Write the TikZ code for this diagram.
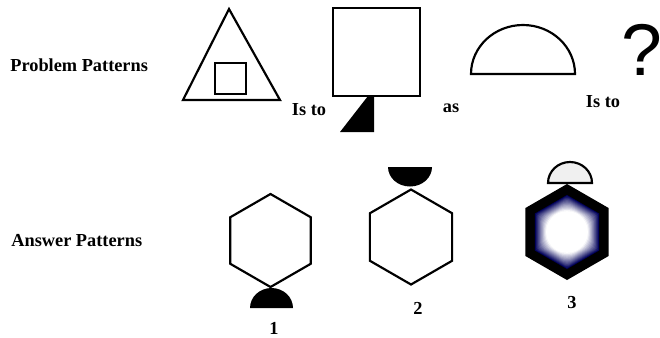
\documentclass[tikz,border=0pt]{standalone}
\usepackage{fontspec}
\setmainfont{Liberation Serif}
\newfontfamily\qfont{Liberation Sans}
\usepackage{tikz}
\usetikzlibrary{calc}
\colorlet{glowedge}{blue!35!black}
\tikzset{
  fig/.style={line width=1.3pt, line join=miter},
  lbl/.style={font=\fontsize{11}{13}\selectfont\bfseries, inner sep=0pt},
  num/.style={font=\fontsize{11}{13}\selectfont\bfseries, inner sep=0pt}
}

\begin{document}
\begin{tikzpicture}[x=0.6pt,y=-0.6pt]
        \useasboundingbox (0,0) rectangle (660,337);
        % row titles
        \node[lbl,anchor=west] (probtitle) at (10,65) {Problem Patterns};
        \node[lbl,anchor=west] (anstitle) at (11,241) {Answer Patterns};
        % triangle with square
        \draw[fig] (229,9) -- (280,100) -- (183,100) -- cycle;
        \draw[fig] (215,63) rectangle (246,94);
        \node[lbl] (isto1) at (309,110) {Is to};
        % square with wedge
        \draw[fig] (333,8) rectangle (420,96);
        \fill (368,96) -- (374,96) -- (374,132) -- (340,132) -- cycle;
        \node[lbl] (as) at (451,108) {as};
        % half disc
        \draw[fig] (471,74) arc[start angle=180,end angle=360,x radius=52,y radius=49] -- cycle;
        \node[lbl] (isto2) at (603,102) {Is to};
        \node[font=\qfont\fontsize{44}{44}\selectfont, inner sep=0pt] (quest) at (642,50) {?};
        % answer 1
        \draw[fig] (270.5,240.5) +(90:46.5) -- +(30:46.5) -- +(-30:46.5) -- +(-90:46.5) -- +(-150:46.5) -- +(150:46.5) -- cycle;
        \fill (250,308) arc[start angle=180,end angle=360,x radius=21.5,y radius=20] -- cycle;
        \node[num,anchor=north] (ansA) at (274,322) {1};
        % answer 2
        \draw[fig] (411,237) +(90:47.5) -- +(30:47.5) -- +(-30:47.5) -- +(-90:47.5) -- +(-150:47.5) -- +(150:47.5) -- cycle;
        \fill (388,167) arc[start angle=180,end angle=0,x radius=22,y radius=19.5] -- cycle;
        \node[num] (ansB) at (418,308) {2};
        % answer 3, dark hexagon with a light core
        \fill (567,232) +(90:48) -- +(30:48) -- +(-30:48) -- +(-90:48) -- +(-150:48) -- +(150:48) -- cycle;
        \foreach \k in {0,...,14} {
          \pgfmathsetmacro{\r}{37-\k}
          \pgfmathsetmacro{\p}{min(100,\k*8)}
          \fill[white!\p!glowedge, rounded corners=\k*0.5pt] (567,232) +(90:\r) -- +(30:\r) -- +(-30:\r) -- +(-90:\r) -- +(-150:\r) -- +(150:\r) -- cycle;
        }
        \draw[fig,fill=black!6] (548,183) arc[start angle=180,end angle=360,x radius=22,y radius=21] -- cycle;
        \node[num] (ansC) at (572,303) {3};
      \end{tikzpicture}
\end{document}
